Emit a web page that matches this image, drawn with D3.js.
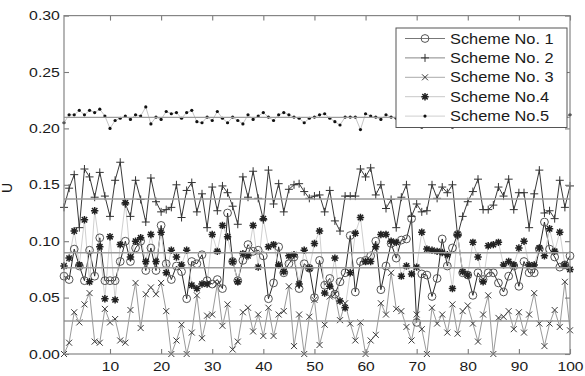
<!DOCTYPE html>
<html>
<head>
	<meta charset="utf-8">
	<title></title>
	<style>
		body { margin: 0; background: #fff; }
		text { font-family: "Liberation Sans", Arial, sans-serif; fill: #1a1a1a; }
	</style>
</head>
<body>
	<svg id="container" width="585" height="376"></svg>
</body>
<script src="https://d3js.org/d3.v7.min.js"></script>
<script>
	// run index on the x axis
	const runs = d3.range(1, 101)

	const scheme1 = [0.069,0.066,0.093,0.078,0.065,0.092,0.069,0.103,0.065,0.065,
		0.065,0.082,0.100,0.082,0.094,0.100,0.074,0.094,0.074,0.114,
		0.080,0.066,0.078,0.073,0.049,0.082,0.080,0.088,0.065,0.062,
		0.066,0.058,0.125,0.082,0.065,0.083,0.097,0.091,0.092,0.087,
		0.049,0.063,0.095,0.072,0.080,0.086,0.058,0.080,0.076,0.050,
		0.083,0.061,0.067,0.053,0.064,0.072,0.105,0.055,0.082,0.083,
		0.087,0.100,0.057,0.078,0.098,0.085,0.101,0.102,0.120,0.028,
		0.071,0.070,0.051,0.067,0.102,0.078,0.094,0.106,0.072,0.070,
		0.052,0.072,0.066,0.072,0.072,0.063,0.055,0.069,0.078,0.060,
		0.082,0.072,0.072,0.093,0.117,0.093,0.086,0.077,0.079,0.087]

	const scheme2 = [0.130,0.147,0.159,0.112,0.164,0.157,0.139,0.161,0.140,0.122,
		0.154,0.170,0.133,0.122,0.154,0.137,0.117,0.156,0.135,0.126,
		0.128,0.130,0.150,0.121,0.145,0.152,0.126,0.142,0.112,0.148,
		0.127,0.149,0.143,0.131,0.115,0.157,0.139,0.162,0.138,0.119,
		0.163,0.133,0.151,0.126,0.146,0.150,0.151,0.144,0.138,0.140,
		0.141,0.126,0.145,0.118,0.109,0.140,0.140,0.140,0.164,0.157,
		0.165,0.141,0.150,0.129,0.137,0.112,0.139,0.150,0.122,0.133,
		0.126,0.127,0.150,0.138,0.148,0.143,0.150,0.105,0.122,0.135,
		0.144,0.155,0.128,0.128,0.132,0.148,0.140,0.155,0.128,0.143,
		0.143,0.112,0.142,0.163,0.125,0.127,0.120,0.154,0.130,0.149]

	const scheme3 = [0.000,0.010,0.037,0.028,0.044,0.054,0.011,0.010,0.040,0.028,
		0.031,0.012,0.010,0.039,0.063,0.023,0.053,0.059,0.053,0.063,
		0.038,0.000,0.012,0.026,0.000,0.019,0.052,0.014,0.034,0.035,
		0.062,0.025,0.044,0.004,0.011,0.037,0.041,0.020,0.035,0.016,
		0.041,0.016,0.035,0.038,0.060,0.007,0.035,0.000,0.033,0.048,
		0.008,0.026,0.051,0.053,0.030,0.045,0.027,0.012,0.028,0.000,
		0.012,0.017,0.045,0.035,0.072,0.040,0.038,0.024,0.012,0.035,
		0.022,0.000,0.041,0.027,0.035,0.019,0.044,0.018,0.038,0.043,
		0.027,0.011,0.035,0.052,0.000,0.032,0.033,0.038,0.022,0.037,
		0.019,0.035,0.054,0.027,0.007,0.027,0.039,0.024,0.064,0.021]

	const scheme4 = [0.078,0.085,0.109,0.079,0.119,0.064,0.127,0.095,0.049,0.104,
		0.048,0.097,0.134,0.086,0.100,0.103,0.082,0.106,0.082,0.108,
		0.072,0.092,0.086,0.079,0.092,0.061,0.058,0.062,0.062,0.106,
		0.091,0.114,0.104,0.082,0.064,0.089,0.087,0.114,0.077,0.120,
		0.095,0.097,0.079,0.073,0.087,0.088,0.062,0.092,0.076,0.098,
		0.109,0.054,0.060,0.085,0.047,0.041,0.072,0.107,0.121,0.082,
		0.082,0.095,0.106,0.106,0.100,0.099,0.069,0.078,0.071,0.077,
		0.108,0.093,0.092,0.091,0.090,0.088,0.058,0.106,0.073,0.070,
		0.099,0.086,0.064,0.096,0.097,0.099,0.079,0.082,0.079,0.094,
		0.100,0.079,0.079,0.094,0.087,0.111,0.091,0.108,0.079,0.075]

	const scheme5 = [0.205,0.212,0.212,0.216,0.212,0.216,0.214,0.217,0.211,0.200,
		0.207,0.209,0.211,0.208,0.212,0.211,0.219,0.204,0.210,0.208,
		0.215,0.213,0.214,0.209,0.214,0.216,0.206,0.205,0.210,0.207,
		0.215,0.209,0.205,0.210,0.207,0.204,0.212,0.208,0.211,0.214,
		0.210,0.207,0.212,0.214,0.212,0.210,0.209,0.205,0.209,0.210,
		0.212,0.213,0.209,0.206,0.203,0.210,0.210,0.210,0.199,0.213,
		0.211,0.210,0.208,0.212,0.210,0.209,0.212,0.207,0.211,0.213,
		0.201,0.210,0.208,0.214,0.209,0.206,0.201,0.211,0.212,0.208,
		0.210,0.213,0.207,0.209,0.211,0.214,0.208,0.206,0.210,0.212,
		0.209,0.207,0.211,0.213,0.208,0.210,0.209,0.215,0.210,0.212]

	// horizontal average level of every scheme
	const meanLevels = [0.0765, 0.1374, 0.0293, 0.0898, 0.2098]

	const seriesNames = ["Scheme No. 1", "Scheme No. 2", "Scheme No. 3", "Scheme No.4", "Scheme No.5"]
	const xTicks = [10, 20, 30, 40, 50, 60, 70, 80, 90, 100]
	const yTicks = [0, 0.05, 0.10, 0.15, 0.20, 0.25, 0.30]

	let allSeries = [scheme1, scheme2, scheme3, scheme4, scheme5]

	// styling of each scheme: line colour, marker kind, legend line colour
	let styles = [
		{line: "#2a2a2a", lw: 1, marker: "circle", mColor: "#555", key: "#777"},
		{line: "#3a3a3a", lw: 1, marker: "plus", mColor: "#333", key: "#888"},
		{line: "#9a9a9a", lw: 1, marker: "cross", mColor: "#3a3a3a", key: "#aaa"},
		{line: "#cfcfcf", lw: 1, marker: "star", mColor: "#222", key: "#c8c8c8"},
		{line: "#c4c4c4", lw: 1, marker: "dot", mColor: "#111", key: "#cfcfcf"}
	]

	let svg = d3.select("#container")
	let pLeft = 64, pRight = 570, pTop = 15.6, pBottom = 354

	let x = d3.scaleLinear().domain([1, 100]).range([pLeft, pRight])
	let y = d3.scaleLinear().domain([0, 0.3]).range([pBottom, pTop])

	let markerPath = {
		plus: "M-4,0H4M0,-4V4",
		cross: "M-3,-3L3,3M-3,3L3,-3",
		star: "M-3.7,0H3.7M0,-3.7V3.7M-2.7,-2.7L2.7,2.7M-2.7,2.7L2.7,-2.7"
	}

	function drawMarker(g, kind, color) {
		if (kind == "circle") {
			g.append("circle").attr("r", 3.9).attr("fill", "none")
				.attr("stroke", color).attr("stroke-width", 1)
		} else if (kind == "dot") {
			g.append("circle").attr("r", 1.6).attr("fill", color)
		} else {
			g.append("path").attr("d", markerPath[kind]).attr("fill", "none")
				.attr("stroke", color).attr("stroke-width", kind == "star" ? 1.5 : 1)
		}
	}

	let plot = svg.append("g")

	// series lines and markers
	allSeries.forEach((vals, k) => {
		let st = styles[k]
		let line = d3.line().x((d, i) => x(runs[i])).y(d => y(d))
		plot.append("path")
			.datum(vals)
			.attr("d", line)
			.attr("fill", "none")
			.attr("stroke", st.line)
			.attr("stroke-width", st.lw)
	})
	allSeries.forEach((vals, k) => {
		let st = styles[k]
		let pts = plot.append("g").selectAll("g")
			.data(vals)
			.enter()
			.append("g")
				.attr("transform", (d, i) => `translate(${x(runs[i])},${y(d)})`)
		pts.each(function() { drawMarker(d3.select(this), st.marker, st.mColor) })
	})

	// average lines
	plot.selectAll(".mean")
		.data(meanLevels)
		.enter()
		.append("line")
			.attr("x1", pLeft).attr("x2", pRight)
			.attr("y1", d => y(d)).attr("y2", d => y(d))
			.attr("stroke", "#9b9b9b")
			.attr("stroke-width", 1.4)

	// axes, ticks point inward on all four sides
	let xAxis = d3.axisBottom(x).tickValues(xTicks).tickSizeInner(-5).tickSizeOuter(0).tickPadding(8)
	let yAxis = d3.axisLeft(y).tickValues(yTicks).tickSizeInner(-5).tickSizeOuter(0).tickPadding(4)
		.tickFormat(d3.format(".2f"))

	let gx = svg.append("g").attr("transform", `translate(0,${pBottom})`).call(xAxis)
	let gy = svg.append("g").attr("transform", `translate(${pLeft},0)`).call(yAxis)
	svg.append("g").attr("transform", `translate(0,${pTop})`)
		.call(d3.axisTop(x).tickValues(xTicks).tickSizeInner(-5).tickSizeOuter(0).tickFormat(""))
	svg.append("g").attr("transform", `translate(${pRight},0)`)
		.call(d3.axisRight(y).tickValues(yTicks).tickSizeInner(-5).tickSizeOuter(0).tickFormat(""))

	svg.selectAll(".domain").remove()
	svg.selectAll(".tick line").attr("stroke", "#7a7a7a").attr("stroke-width", 1.1)

	// the picture is a bit stretched sideways, so the text is too
	gx.selectAll("text")
		.attr("font-size", 13).attr("font-family", null)
		.attr("transform", "scale(1.2,1)")
		.attr("fill", "#1a1a1a")
	gy.selectAll("text")
		.attr("font-size", 13).attr("font-family", null)
		.attr("x", -4 / 1.2)
		.attr("transform", "scale(1.22,1)")
		.attr("fill", "#1a1a1a")

	svg.append("rect")
		.attr("x", pLeft).attr("y", pTop)
		.attr("width", pRight - pLeft).attr("height", pBottom - pTop)
		.attr("fill", "none")
		.attr("stroke", "#858585")
		.attr("stroke-width", 1.2)

	svg.append("text")
		.attr("transform", "translate(12,188) rotate(-90)")
		.attr("text-anchor", "middle")
		.attr("font-size", 14)
		.text("U")

	// legend
	let legend = svg.append("g").attr("transform", "translate(396,28)")
	legend.append("rect")
		.attr("width", 171).attr("height", 99.5)
		.attr("fill", "#fff")
		.attr("stroke", "#555")
		.attr("stroke-width", 1)

	let rows = legend.selectAll(".row")
		.data(seriesNames)
		.enter()
		.append("g")
			.attr("transform", (d, i) => `translate(0,${10.5 + i * 19.4})`)

	rows.append("line")
		.attr("x1", 9).attr("x2", 49)
		.attr("stroke", (d, i) => styles[i].key)
		.attr("stroke-width", 1)
	rows.each(function(d, i) {
		let m = d3.select(this).append("g").attr("transform", "translate(29,0)")
		drawMarker(m, styles[i].marker, styles[i].mColor)
	})
	rows.append("text")
		.attr("x", 54 / 1.17)
		.attr("dy", "0.36em")
		.attr("font-size", 14)
		.attr("transform", "scale(1.17,1)")
		.text(d => d)
</script>
</html>
